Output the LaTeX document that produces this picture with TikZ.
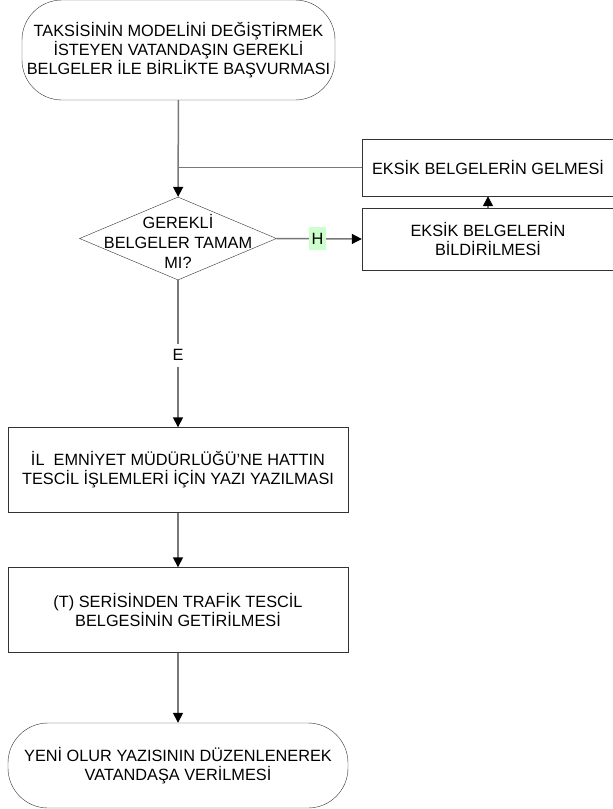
\documentclass[tikz,border=0pt]{standalone}
\usepackage{fontspec}
\setmainfont{Liberation Sans}
\usetikzlibrary{shapes.geometric,arrows.meta}

\definecolor{hatgri}{rgb}{0.47,0.47,0.47}
\definecolor{kenar}{rgb}{0.2,0.2,0.2}
\definecolor{hayiryesil}{rgb}{0.8,1,0.8}

\begin{document}
\begin{tikzpicture}[
        x=1pt, y=-1pt,
        every node/.style={font=\fontsize{16.3}{19}\selectfont, align=center, inner sep=0pt},
        terminal/.style={draw=kenar, rounded corners=40pt, minimum width=340pt, minimum height=85pt},
        islem/.style={draw=kenar, rectangle, minimum width=340pt, minimum height=85pt},
        yanislem/.style={draw=kenar, rectangle, minimum width=252pt},
        karar/.style={draw=kenar, diamond, minimum width=197pt, minimum height=83pt},
        etiket/.style={minimum width=17pt, minimum height=23pt},
        ok/.style={draw=hatgri, line width=1.5pt, -{Triangle[length=10pt,width=10pt,color=black]}},
        hat/.style={draw=hatgri, line width=1.5pt}
        ]
        \useasboundingbox (0,0) rectangle (613,809);

        \node [terminal, minimum width=313pt, minimum height=100pt] (basvuru) at (178.5,50)
            {TAKSİSİNİN MODELİNİ DEĞİŞTİRMEK\\İSTEYEN VATANDAŞIN GEREKLİ\\BELGELER İLE BİRLİKTE BAŞVURMASI};
        \node [karar] (kontrol) at (178,238.5) {};
        \node [font=\fontsize{16.3}{20}\selectfont] (kontroltxt) at (178,241) {GEREKLİ\\BELGELER TAMAM\\MI?};
        \node [yanislem, minimum height=57pt] (gelme) at (488,167.5) {EKSİK BELGELERİN GELMESİ};
        \node [yanislem, minimum height=62pt] (bildirim) at (488,239) {EKSİK BELGELERİN\\BİLDİRİLMESİ};
        \node [islem] (yazi) at (178,470) {İL\ \ EMNİYET MÜDÜRLÜĞÜ’NE HATTIN\\TESCİL İŞLEMLERİ İÇİN YAZI YAZILMASI};
        \node [islem] (belge) at (178,610) {(T) SERİSİNDEN TRAFİK TESCİL\\BELGESİNİN GETİRİLMESİ};
        \node [terminal] (olur) at (178,765.5) {YENİ OLUR YAZISININ DÜZENLENEREK\\VATANDAŞA VERİLMESİ};

        \coordinate (birlesme) at (kontrol.north |- gelme.west);

        \draw[ok] (basvuru) -- (kontrol);
        \draw[hat] (gelme.west) -- (birlesme);
        \draw[ok] (kontrol.east) -- node[etiket, fill=hayiryesil, pos=0.48] (h) {H} (bildirim.west);
        \draw[ok] (bildirim) -- (gelme);
        \draw[ok] (kontrol.south) -- node[etiket, fill=white, pos=0.51] (e) {E} (yazi.north);
        \draw[ok] (yazi) -- (belge);
        \draw[ok] (belge) -- (olur);
    \end{tikzpicture}
\end{document}
